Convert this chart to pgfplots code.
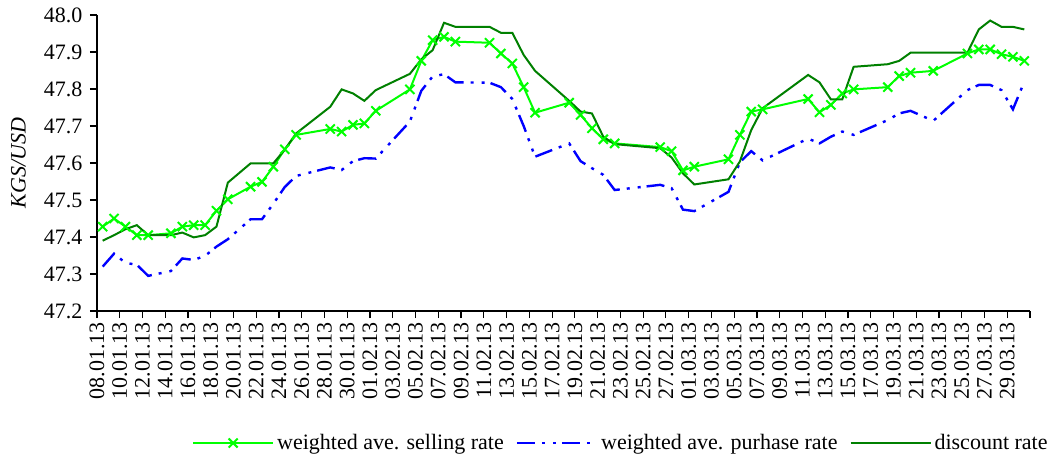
\documentclass[border=0pt]{standalone}
\usepackage{fontspec}
\setmainfont{Liberation Serif}
\usepackage{pgfplots}
\usepackage{pgfplotstable}
\pgfplotsset{compat=1.18}
\definecolor{sellc}{RGB}{0,255,0}
\definecolor{purc}{RGB}{0,0,255}
\definecolor{discc}{RGB}{0,128,0}

\pgfplotstableread{
x sell purch disc
0.5 47.428 47.320 47.390
1.5 47.450 47.355 47.405
2.5 47.428 47.330 47.421
3.5 47.405 47.325 47.432
4.5 47.405 47.295 47.405
6.5 47.410 47.308 47.405
7.5 47.428 47.342 47.412
8.5 47.432 47.338 47.399
9.5 47.432 47.349 47.405
10.5 47.471 47.374 47.428
11.5 47.502 47.394 47.547
13.5 47.536 47.448 47.599
14.5 47.549 47.448 47.599
15.5 47.590 47.490 47.599
16.5 47.637 47.535 47.636
17.5 47.676 47.565 47.680
20.5 47.692 47.588 47.752
21.5 47.685 47.581 47.799
22.5 47.703 47.605 47.788
23.5 47.707 47.613 47.768
24.5 47.741 47.612 47.797
27.5 47.799 47.712 47.841
28.5 47.876 47.795 47.880
29.5 47.932 47.834 47.905
30.5 47.941 47.840 47.979
31.5 47.928 47.818 47.968
34.5 47.925 47.817 47.968
35.5 47.896 47.805 47.952
36.5 47.869 47.773 47.952
37.5 47.805 47.700 47.892
38.5 47.736 47.617 47.849
41.5 47.763 47.653 47.768
42.5 47.730 47.605 47.739
43.5 47.694 47.586 47.734
44.5 47.664 47.568 47.671
45.5 47.653 47.527 47.651
49.5 47.643 47.541 47.640
50.5 47.632 47.532 47.615
51.5 47.580 47.474 47.572
52.5 47.590 47.470 47.542
55.5 47.610 47.522 47.556
56.5 47.676 47.602 47.604
57.5 47.739 47.632 47.689
58.5 47.745 47.607 47.748
62.5 47.773 47.666 47.838
63.5 47.737 47.653 47.818
64.5 47.757 47.671 47.772
65.5 47.788 47.685 47.772
66.5 47.799 47.676 47.860
69.5 47.805 47.716 47.867
70.5 47.835 47.734 47.876
71.5 47.844 47.741 47.898
73.5 47.849 47.714 47.898
76.5 47.896 47.797 47.898
77.5 47.907 47.811 47.961
78.5 47.907 47.811 47.985
79.5 47.894 47.797 47.968
80.5 47.887 47.745 47.968
81.5 47.876 47.820 47.961
}\rates

\begin{document}
\fontsize{11}{13}\selectfont
\begin{tikzpicture}
\begin{axis}[
  at={(0,0)}, anchor=south west,
  scale only axis, width=466.5pt, height=148pt,
  xmin=0, xmax=82, ymin=47.2, ymax=48.0,
  axis lines=left,
  axis line style={-, black, line width=0.8pt},
  tick align=outside,
  major tick length=3.5pt,
  tick style={black, line width=0.6pt},
  xtick={0,2,4,6,8,10,12,14,16,18,20,22,24,26,28,30,32,34,36,38,40,42,44,46,48,50,52,54,56,58,60,62,64,66,68,70,72,74,76,78,80,82},
  xticklabels={08.01.13,10.01.13,12.01.13,14.01.13,16.01.13,18.01.13,20.01.13,22.01.13,24.01.13,26.01.13,28.01.13,30.01.13,01.02.13,03.02.13,05.02.13,07.02.13,09.02.13,11.02.13,13.02.13,15.02.13,17.02.13,19.02.13,21.02.13,23.02.13,25.02.13,27.02.13,01.03.13,03.03.13,05.03.13,07.03.13,09.03.13,11.03.13,13.03.13,15.03.13,17.03.13,19.03.13,21.03.13,23.03.13,25.03.13,27.03.13,29.03.13,{}},
  xticklabel style={rotate=90, anchor=east, inner xsep=2pt, font=\fontsize{11}{13}\selectfont},
  ytick={47.2,47.3,47.4,47.5,47.6,47.7,47.8,47.9,48.0},
  yticklabel style={font=\fontsize{11}{13}\selectfont,
    /pgf/number format/fixed, /pgf/number format/fixed zerofill,
    /pgf/number format/precision=1, /pgf/number format/assume math mode=true},
  ylabel={\textit{KGS/USD}},
  ylabel style={at={(axis description cs:-0.0841,0.5)}, anchor=center, font=\fontsize{11}{13}\selectfont},
  legend columns=3,
  legend image code/.code={\draw[mark repeat=2,mark phase=2,#1] plot coordinates {(0pt,0pt) (20pt,0pt) (40pt,0pt)};},
  legend style={at={(axis description cs:1.0225,-0.446)}, anchor=east, draw=none, fill=none, inner sep=0pt,
    font=\fontsize{11}{13}\selectfont,
    /tikz/every even column/.append style={column sep=4.5pt},
    nodes={inner xsep=1.5pt, inner ysep=1pt}},
  legend cell align=left,
]
\addplot[sellc, line width=1pt, mark=x, mark size=3.2pt, mark options={solid, line width=1pt}] table[x=x, y=sell] {\rates};
\addlegendentry{weighted ave. selling rate}
\addplot[purc, line width=1.2pt, dash pattern=on 9pt off 3.5pt on 1.5pt off 4pt on 1.5pt off 3pt] table[x=x, y=purch] {\rates};
\addlegendentry{weighted ave. purhase rate}
\addplot[discc, line width=1pt] table[x=x, y=disc] {\rates};
\addlegendentry{discount rate}
\end{axis}
\pgfresetboundingbox
\useasboundingbox (-48.5pt,-73pt) rectangle (479pt,155.5pt);
\end{tikzpicture}
\end{document}
